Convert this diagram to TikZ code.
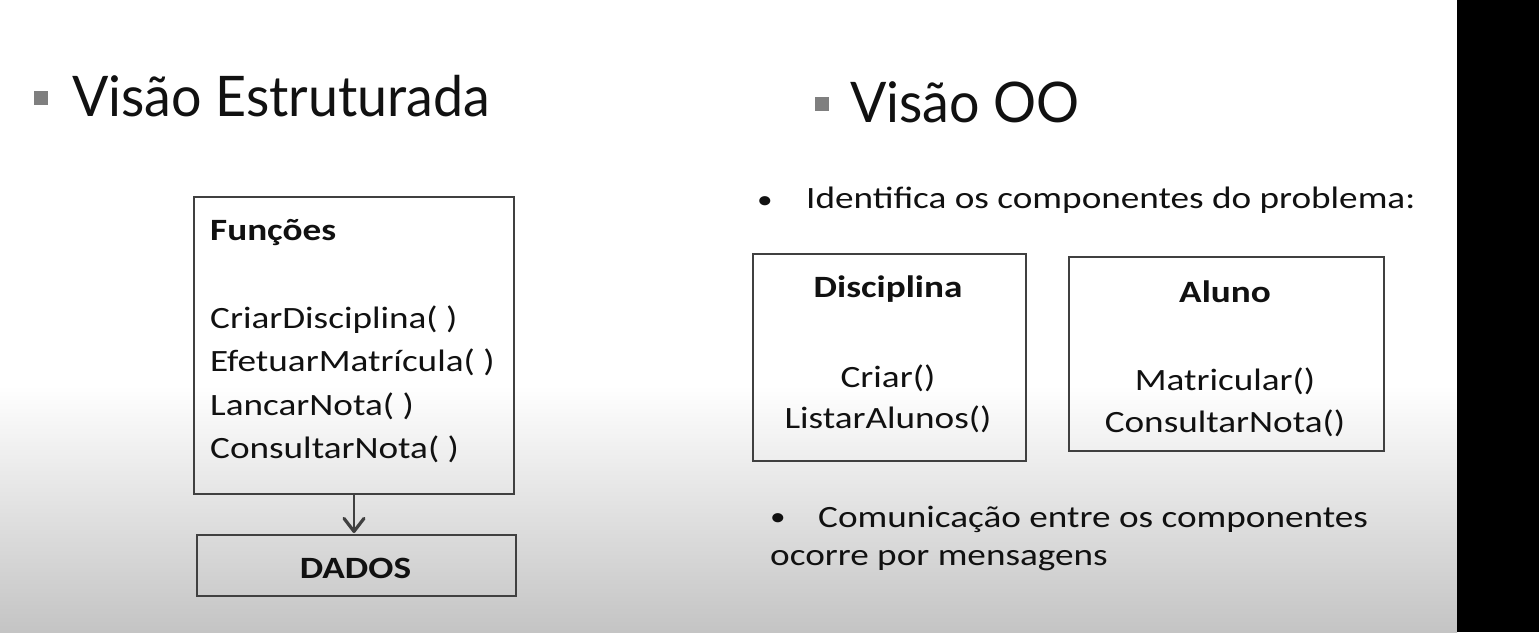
\documentclass[tikz,border=0pt]{standalone}
\usepackage{fontspec}
\setmainfont{Carlito}[FakeStretch=1.2]
\newfontfamily\titlefont{Lato}[FakeStretch=0.96]
\usetikzlibrary{arrows.meta}
\definecolor{ink}{HTML}{111111}
\definecolor{stroke}{HTML}{404040}
\definecolor{bulletgrey}{HTML}{7F7F7F}
\definecolor{bottomgrey}{HTML}{C4C4C4}
\tikzset{
  box/.style={draw=stroke, line width=1.6pt, inner sep=0pt, anchor=north west},
  title/.style={anchor=base west, inner sep=0pt, text=ink, font=\titlefont\fontsize{56}{60}\selectfont},
  body/.style={anchor=base west, inner sep=0pt, text=ink, font=\fontsize{31}{36}\selectfont},
  bodyc/.style={anchor=base, inner sep=0pt, text=ink, font=\fontsize{31}{36}\selectfont},
  bold/.style={font=\bfseries\fontsize{31}{36}\selectfont},
  dot/.style={anchor=base west, inner sep=0pt, text=ink, font=\fontsize{26}{30}\selectfont},
  sqbullet/.style={fill=bulletgrey, draw=none, minimum size=14pt, inner sep=0pt},
  link/.style={draw=stroke, line width=1.5pt, -{Straight Barb[length=13pt,width=20pt,line width=3.2pt,round]}}
}
\begin{document}
\begin{tikzpicture}[x=1pt,y=-1pt]
\useasboundingbox (0,0) rectangle (1539,632);
% background
\fill[white] (0,0) rectangle (1457,385);
\shade[top color=white, bottom color=bottomgrey] (0,385) rectangle (1457,632);
\fill[black] (1457,0) rectangle (1539,632);

% left title
\node[sqbullet] (b1) at (41,98) {};
\node[title] (t1) at (72,116) {Visão Estruturada};

% right title
\node[sqbullet] (b2) at (822,104) {};
\node[title] (t2) at (850,122) {Visão OO};

% Funções box
\node[box, minimum width=320pt, minimum height=297pt] (func) at (193,196) {};
\node[body, bold] (fh) at (210,240) {Funções};
\node[body] (f1) at (210,328) {CriarDisciplina( )};
\node[body] (f2) at (210,371) {EfetuarMatrícula( )};
\node[body] (f3) at (210,415) {LancarNota( )};
\node[body] (f4) at (210,458) {ConsultarNota( )};

% DADOS box
\node[box, minimum width=319pt, minimum height=61pt] (dados) at (196,534) {};
\node[bodyc, bold] (dt) at (355.5,578) {DADOS};
\coordinate (arrstart) at (354,493);
\coordinate (arrend) at (354,533);
\draw[link] (arrstart) -- (arrend);

% right bullets
\node[dot] (i0) at (757,208) {•};
\node[body] (i1) at (806,208) {Identifica os componentes do problema:};

% Disciplina box
\node[box, minimum width=273pt, minimum height=207pt] (disc) at (752,253) {};
\node[bodyc, bold] (dh) at (888,297) {Disciplina};
\node[bodyc] (d1) at (888,387) {Criar()};
\node[bodyc] (d2) at (888,428) {ListarAlunos()};

% Aluno box
\node[box, minimum width=315pt, minimum height=194pt] (alu) at (1068,256) {};
\node[bodyc, bold] (ah) at (1225,302) {Aluno};
\node[bodyc] (a1) at (1225,390) {Matricular()};
\node[bodyc] (a2) at (1225,432) {ConsultarNota()};

% communication
\node[dot] (c0) at (770,525) {•};
\node[body] (c1) at (818,527) {Comunicação entre os componentes};
\node[body] (c2) at (770,565) {ocorre por mensagens};
\end{tikzpicture}
\end{document}
